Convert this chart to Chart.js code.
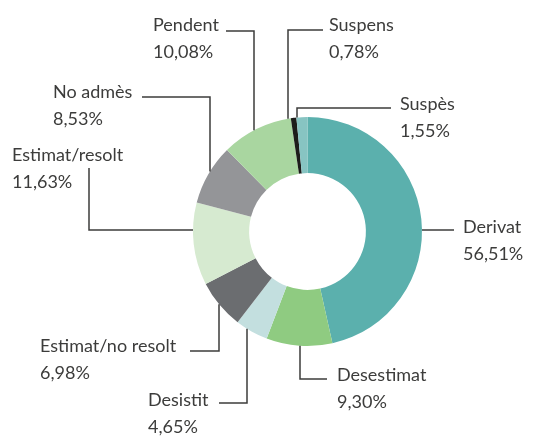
<!DOCTYPE html>
<html>
<head>
<meta charset="utf-8">
<script src="https://cdn.jsdelivr.net/npm/chart.js@4.4.0/dist/chart.umd.min.js"></script>
<style>
  html, body { margin: 0; padding: 0; background: #fff; }
  #wrap { width: 535px; height: 437px; position: relative; }
</style>
</head>
<body>
<div id="wrap"><canvas id="chart"></canvas></div>
<script>
const categories = ["Derivat", "Desestimat", "Desistit", "Estimat/no resolt", "Estimat/resolt", "No admès", "Pendent", "Suspens", "Suspès"];
// arc sizes as they are drawn (the Derivat arc only covers ~46.5% of the ring)
const values = [46.51, 9.30, 4.65, 6.98, 11.63, 8.53, 10.08, 0.78, 1.55];
// percentages printed next to each slice
const percentLabels = ["56,51%", "9,30%", "4,65%", "6,98%", "11,63%", "8,53%", "10,08%", "0,78%", "1,55%"];
const colors = ["#5bb0ad", "#8fcb81", "#c3dfdf", "#6b6d70", "#d6ead0", "#949598", "#a9d6a0", "#1d1d1b", "#87c4c2"];

// where each label sits and how its leader runs back to the ring
const labelLayout = [
  { x: 463, y: 233, path: [[454, 230]], to: "h" },
  { x: 337, y: 381, path: [[327, 379], [300, 379]], to: "v" },
  { x: 148, y: 406, path: [[219, 403], [247, 403]], to: "v" },
  { x: 40, y: 352, path: [[190, 351], [219, 351]], to: "v" },
  { x: 12, y: 161, path: [[89, 168], [89, 230]], to: "h" },
  { x: 53, y: 98, path: [[142, 97], [210, 97]], to: "v" },
  { x: 153, y: 31, path: [[226, 31], [254, 31]], to: "v" },
  { x: 329, y: 31, path: [[323, 30], [288, 30]], to: "v" },
  { x: 400, y: 110, path: [[391, 108], [297, 108]], to: "v" },
];

const TEXT_COLOR = "#3c3c3b";

const leaderLabels = {
  id: "leaderLabels",
  afterDraw(chart) {
    const arc = chart.getDatasetMeta(0).data[0];
    if (!arc) return;
    const { x: cx, y: cy, outerRadius: r } = arc.getProps(["x", "y", "outerRadius"], true);
    const ctx = chart.ctx;
    ctx.save();
    ctx.strokeStyle = TEXT_COLOR;
    ctx.lineWidth = 1.5;
    ctx.fillStyle = TEXT_COLOR;
    ctx.font = "18px Lato, 'Open Sans', sans-serif";
    ctx.textBaseline = "alphabetic";

    labelLayout.forEach((lab, i) => {
      const pts = lab.path;
      const [px, py] = pts[pts.length - 1];
      let end;
      if (lab.to === "v") {
        const dy = Math.sqrt(Math.max(r * r - (px - cx) ** 2, 0));
        end = [px, py < cy ? cy - dy : cy + dy];
      } else {
        const dx = Math.sqrt(Math.max(r * r - (py - cy) ** 2, 0));
        end = [px < cx ? cx - dx : cx + dx, py];
      }
      ctx.beginPath();
      ctx.moveTo(pts[0][0], pts[0][1]);
      pts.slice(1).forEach((p) => ctx.lineTo(p[0], p[1]));
      ctx.lineTo(end[0], end[1]);
      ctx.stroke();

      ctx.fillText(categories[i], lab.x, lab.y);
      ctx.fillText(percentLabels[i], lab.x, lab.y + 27);
    });
    ctx.restore();
  },
};

new Chart(document.getElementById("chart"), {
  type: "doughnut",
  data: {
    labels: categories,
    datasets: [
      {
        data: values,
        backgroundColor: colors,
        borderWidth: 0,
      },
    ],
  },
  options: {
    responsive: true,
    maintainAspectRatio: false,
    animation: false,
    cutout: "51%",
    layout: {
      padding: { left: 193, right: 113, top: 117, bottom: 91 },
    },
    plugins: {
      legend: { display: false },
      tooltip: { enabled: false },
    },
  },
  plugins: [leaderLabels],
});
</script>
</body>
</html>
